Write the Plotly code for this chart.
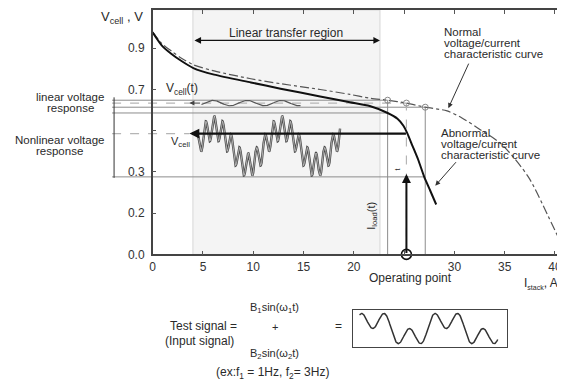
import numpy as np
import plotly.graph_objects as go

# page is shown with the default 8px body margin, so the figure is offset by 8px
OFF = 8
W, H = 565 - OFF, 390 - OFF

# ---------------- data ----------------
x_tick_vals = [0, 5, 10, 15, 20, 25, 30, 35, 40]
x_tick_text = ["0", "5", "10", "15", "20", "", "30", "35", "40"]
y_tick_vals = [0, 1, 2, 3, 4, 5]
y_tick_text = ["0.0", "0.2", "0.3", "", "0.7", "0.9"]

normal_I = [0.00, 0.89, 1.87, 2.86, 4.04, 6.11, 9.76, 12.71, 16.65, 19.61, 21.58,
            23.36, 25.23, 27.10, 29.27, 30.75, 32.42, 34.69, 37.35, 39.32, 40.80]
normal_V = [5.40, 5.12, 4.93, 4.76, 4.60, 4.45, 4.26, 4.14, 4.00, 3.88, 3.79,
            3.74, 3.67, 3.57, 3.48, 3.31, 3.05, 2.67, 1.88, 0.93, 0.17]

abnormal_I = [0.00, 0.89, 1.87, 2.86, 4.04, 6.11, 9.76, 12.71, 16.65, 19.61, 21.58,
              23.36, 24.34, 24.93, 25.33, 25.82, 26.41, 27.00, 27.59, 28.19]
abnormal_V = [5.38, 5.07, 4.86, 4.69, 4.52, 4.36, 4.17, 4.02, 3.83, 3.69, 3.60,
              3.43, 3.29, 3.12, 2.93, 2.64, 2.29, 1.88, 1.55, 1.21]

op_I = [23.36, 25.23, 27.10]          # I_load(t) swing: low, operating point, high
normal_at_op = [3.74, 3.67, 3.57]
abnormal_at_op = [3.43, 2.93, 1.88]

linear_region = [4.0, 22.6]

# linear response V_cell(t): small sine
lin_I_range = [4.85, 14.7]
lin_amp, lin_period, lin_peak = 0.065, 3.4, 6.0

# nonlinear response: slow + fast component
nl_I_range = [4.53, 18.63]
nl_center, nl_A_low, nl_A_high = 2.62, 0.45, 0.29
nl_period, nl_ratio, nl_peak = 6.75, 8, 6.11

# test signal: B1 sin(w1 t) + B2 sin(w2 t)
B1, B2 = 1.0, 1.0
f1, f2 = 1.0, 3.0
t_range = [0.07, 1.95]

# ---------------- layout helpers (page pixel -> paper) ----------------
def PX(xp):
    return (xp - OFF) / W

def PY(yp):
    return 1 - (yp - OFF) / H

XD = [PX(151), 1.0]
YD = [PY(259), PY(10)]
XR = [0, 40.8]
YR = [0, 249 / 42]

def xpaper(v):
    return XD[0] + (v - XR[0]) / (XR[1] - XR[0]) * (XD[1] - XD[0])

FONT = "Liberation Sans, Arial, sans-serif"
TC = "#2a2a2a"

fig = go.Figure()

# ---------------- traces ----------------
fig.add_trace(go.Scatter(x=normal_I, y=normal_V, mode="lines",
                         line=dict(color="#555555", width=1.2, dash="dashdot",
                                   shape="spline", smoothing=0.8)))
fig.add_trace(go.Scatter(x=abnormal_I, y=abnormal_V, mode="lines",
                         line=dict(color="#111111", width=2,
                                   shape="spline", smoothing=0.6)))
fig.add_trace(go.Scatter(x=op_I, y=normal_at_op, mode="markers",
                         marker=dict(symbol="circle-open", size=6,
                                     color="#888888", line=dict(width=1))))

lx = np.linspace(lin_I_range[0], lin_I_range[1], 300)
ly = normal_at_op[1] + lin_amp * np.cos(2 * np.pi * (lx - lin_peak) / lin_period)
fig.add_trace(go.Scatter(x=lx, y=ly, mode="lines",
                         line=dict(color="#555555", width=1.2)))

nx = np.linspace(nl_I_range[0], nl_I_range[1], 1200)
ph = (nx - nl_peak) / nl_period
ny = (nl_center + nl_A_low * np.cos(2 * np.pi * ph)
      + nl_A_high * np.cos(2 * np.pi * nl_ratio * ph))
fig.add_trace(go.Scatter(x=nx, y=ny, mode="lines",
                         line=dict(color="#4a4a4a", width=2.4)))
fig.add_trace(go.Scatter(x=nx, y=ny, mode="lines",
                         line=dict(color="#d8d8d8", width=0.7)))

# left bracket markers (voltage response)
bx = (112 - 151) / 10.147
up_py = [106, 117, 123, 129]
dn_py = [99, 155, 161, 167, 173, 180]
fig.add_trace(go.Scatter(x=[bx] * len(up_py), y=[(259 - p) / 42 for p in up_py],
                         mode="markers", cliponaxis=False,
                         marker=dict(symbol="triangle-up", size=5, color="#333333")))
fig.add_trace(go.Scatter(x=[bx] * len(dn_py), y=[(259 - p) / 42 for p in dn_py],
                         mode="markers", cliponaxis=False,
                         marker=dict(symbol="triangle-down", size=5, color="#333333")))

# operating point marker
fig.add_trace(go.Scatter(x=[op_I[1]], y=[0], mode="markers", cliponaxis=False,
                         marker=dict(symbol="circle", size=10, color="white",
                                     line=dict(color="#111111", width=1.6))))

# test-signal box waveform
tt = np.linspace(t_range[0], t_range[1], 400)
sig = B1 * np.sin(2 * np.pi * f1 * tt) + B2 * np.sin(2 * np.pi * f2 * tt)
fig.add_trace(go.Scatter(x=tt, y=sig, mode="lines", xaxis="x2", yaxis="y2",
                         line=dict(color="#333333", width=1.5)))

# ---------------- shapes ----------------
shapes = []
shapes.append(dict(type="rect", xref="x", yref="y domain",
                   x0=linear_region[0], x1=linear_region[1], y0=0, y1=1,
                   fillcolor="#f4f4f4", line=dict(color="#d6d6d6", width=1),
                   layer="below"))

left_px = PX(110)
solid = dict(color="#8c8c8c", width=1)
dashed = dict(color="#b5b5b5", width=1.2, dash="dash")
for I, V, st in [(op_I[0], normal_at_op[0], solid),
                 (op_I[1], normal_at_op[1], dashed),
                 (op_I[2], normal_at_op[2], solid),
                 (op_I[0], abnormal_at_op[0], solid),
                 (op_I[2], abnormal_at_op[2], solid)]:
    shapes.append(dict(type="line", xref="paper", yref="y",
                       x0=left_px, x1=xpaper(I), y0=V, y1=V, line=st, layer="below"))
shapes.append(dict(type="line", xref="paper", yref="y",
                   x0=left_px, x1=xpaper(3.65), y0=abnormal_at_op[1], y1=abnormal_at_op[1],
                   line=dashed, layer="below"))
for I, V, st in zip(op_I, normal_at_op, [solid, dashed, solid]):
    shapes.append(dict(type="line", xref="x", yref="y",
                       x0=I, x1=I, y0=0, y1=V, line=st, layer="below"))
# bracket spine
shapes.append(dict(type="line", xref="paper", yref="paper",
                   x0=PX(112), x1=PX(112), y0=PY(99), y1=PY(181),
                   line=dict(color="#333333", width=1)))

# ---------------- annotations ----------------
ann = []
def text(xp, yp, s, size=12, xanchor="center", **kw):
    d = dict(x=PX(xp), y=PY(yp), xref="paper", yref="paper", text=s,
             showarrow=False, xanchor=xanchor, yanchor="middle",
             font=dict(family=FONT, size=size, color=TC))
    d.update(kw)
    ann.append(d)

text(120, 18, "V<sub>cell</sub> , V", 13)
text(285, 33, "Linear transfer region", 12)
ann.append(dict(x=linear_region[1], y=(259 - 41) / 42, ax=linear_region[0],
                ay=(259 - 41) / 42, xref="x", yref="y", axref="x", ayref="y",
                text="", showarrow=True, arrowhead=2, arrowside="end+start",
                arrowsize=1.1, arrowwidth=1.2, arrowcolor="#111111"))

for i, s in enumerate(["Normal", "voltage/current", "characteristic curve"]):
    text(443, 32 + 11.5 * i, s, 11.5, xanchor="left")
ann.append(dict(x=29.4, y=(259 - 110) / 42, xref="x", yref="y", ax=21, ay=-46,
                text="", showarrow=True, arrowhead=2, arrowsize=1,
                arrowwidth=1, arrowcolor="#333333"))
for i, s in enumerate(["Abnormal", "voltage/current", "characteristic curve"]):
    text(440, 135 + 11.5 * i, s, 11.5, xanchor="left")
ann.append(dict(x=28.1, y=(259 - 189) / 42, xref="x", yref="y", ax=22, ay=-25,
                text="", showarrow=True, arrowhead=2, arrowsize=1,
                arrowwidth=1, arrowcolor="#333333"))

text(181, 91, "V<sub>cell</sub>(t)", 12)
text(179, 145, "V<sub>cell</sub>", 11)
text(68, 99, "linear voltage", 11.5)
text(68, 110, "response", 11.5)
text(57, 142, "Nonlinear voltage", 11.5)
text(57, 154, "response", 11.5)

# V_cell(t) small arrow and V_cell big arrow
ann.append(dict(x=3.65, y=normal_at_op[1], ax=lin_I_range[0], ay=normal_at_op[1],
                xref="x", yref="y", axref="x", ayref="y", text="", showarrow=True,
                arrowhead=2, arrowsize=1, arrowwidth=1, arrowcolor="#444444"))
ann.append(dict(x=3.65, y=abnormal_at_op[1], ax=abnormal_I[14], ay=abnormal_at_op[1],
                xref="x", yref="y", axref="x", ayref="y", text="", showarrow=True,
                arrowhead=2, arrowsize=0.9, arrowwidth=2.2, arrowcolor="#111111"))
# operating point arrow (I_load)
ann.append(dict(x=op_I[1], y=(259 - 177) / 42, ax=op_I[1], ay=0,
                xref="x", yref="y", axref="x", ayref="y", text="", showarrow=True,
                arrowhead=2, arrowsize=0.9, arrowwidth=2, arrowcolor="#111111"))
text(372, 220, "I<sub>load</sub>(t)", 11, textangle=-90)
text(398, 172, "t", 7, textangle=-90)

text(411, 283, "Operating point", 12)
text(543, 289, "I<sub><span style='font-size:7px'>stack</span></sub>, A", 12)

text(274, 314, "B<sub>1</sub>sin(ω<sub>1</sub>t)", 11)
text(274, 333, "+", 11)
text(202, 332, "Test signal =", 12)
text(198, 347, "(Input signal)", 12)
text(338, 332, "=", 12)
text(274, 360, "B<sub>2</sub>sin(ω<sub>2</sub>t)", 11)
text(272, 380, "(ex:f<sub>1</sub> = 1Hz, f<sub>2</sub>= 3Hz)", 12)

axis_common = dict(showgrid=False, zeroline=False, showline=True, linecolor="#444444",
                   linewidth=1.5, ticks="inside", ticklen=4, tickcolor="#555555",
                   mirror="ticks", tickfont=dict(family=FONT, size=12, color="#333333"))

fig.update_layout(
    width=W, height=H, margin=dict(l=0, r=0, t=0, b=0),
    paper_bgcolor="white", plot_bgcolor="white", showlegend=False,
    xaxis=dict(domain=XD, range=XR, tickvals=x_tick_vals, ticktext=x_tick_text,
               **axis_common),
    yaxis=dict(domain=YD, range=YR, tickvals=y_tick_vals, ticktext=y_tick_text,
               ticklabelstandoff=4, **axis_common),
    xaxis2=dict(domain=[PX(353), PX(508)], range=[-0.02, 2.07], anchor="y2",
                showgrid=False, zeroline=False, showticklabels=False, ticks="",
                showline=True, mirror=True, linecolor="#444444", linewidth=1),
    yaxis2=dict(domain=[PY(353), PY(316)], range=[-1.85, 1.85], anchor="x2",
                showgrid=False, zeroline=False, showticklabels=False, ticks="",
                showline=True, mirror=True, linecolor="#444444", linewidth=1),
    shapes=shapes, annotations=ann,
)

fig.write_html("out.html")
